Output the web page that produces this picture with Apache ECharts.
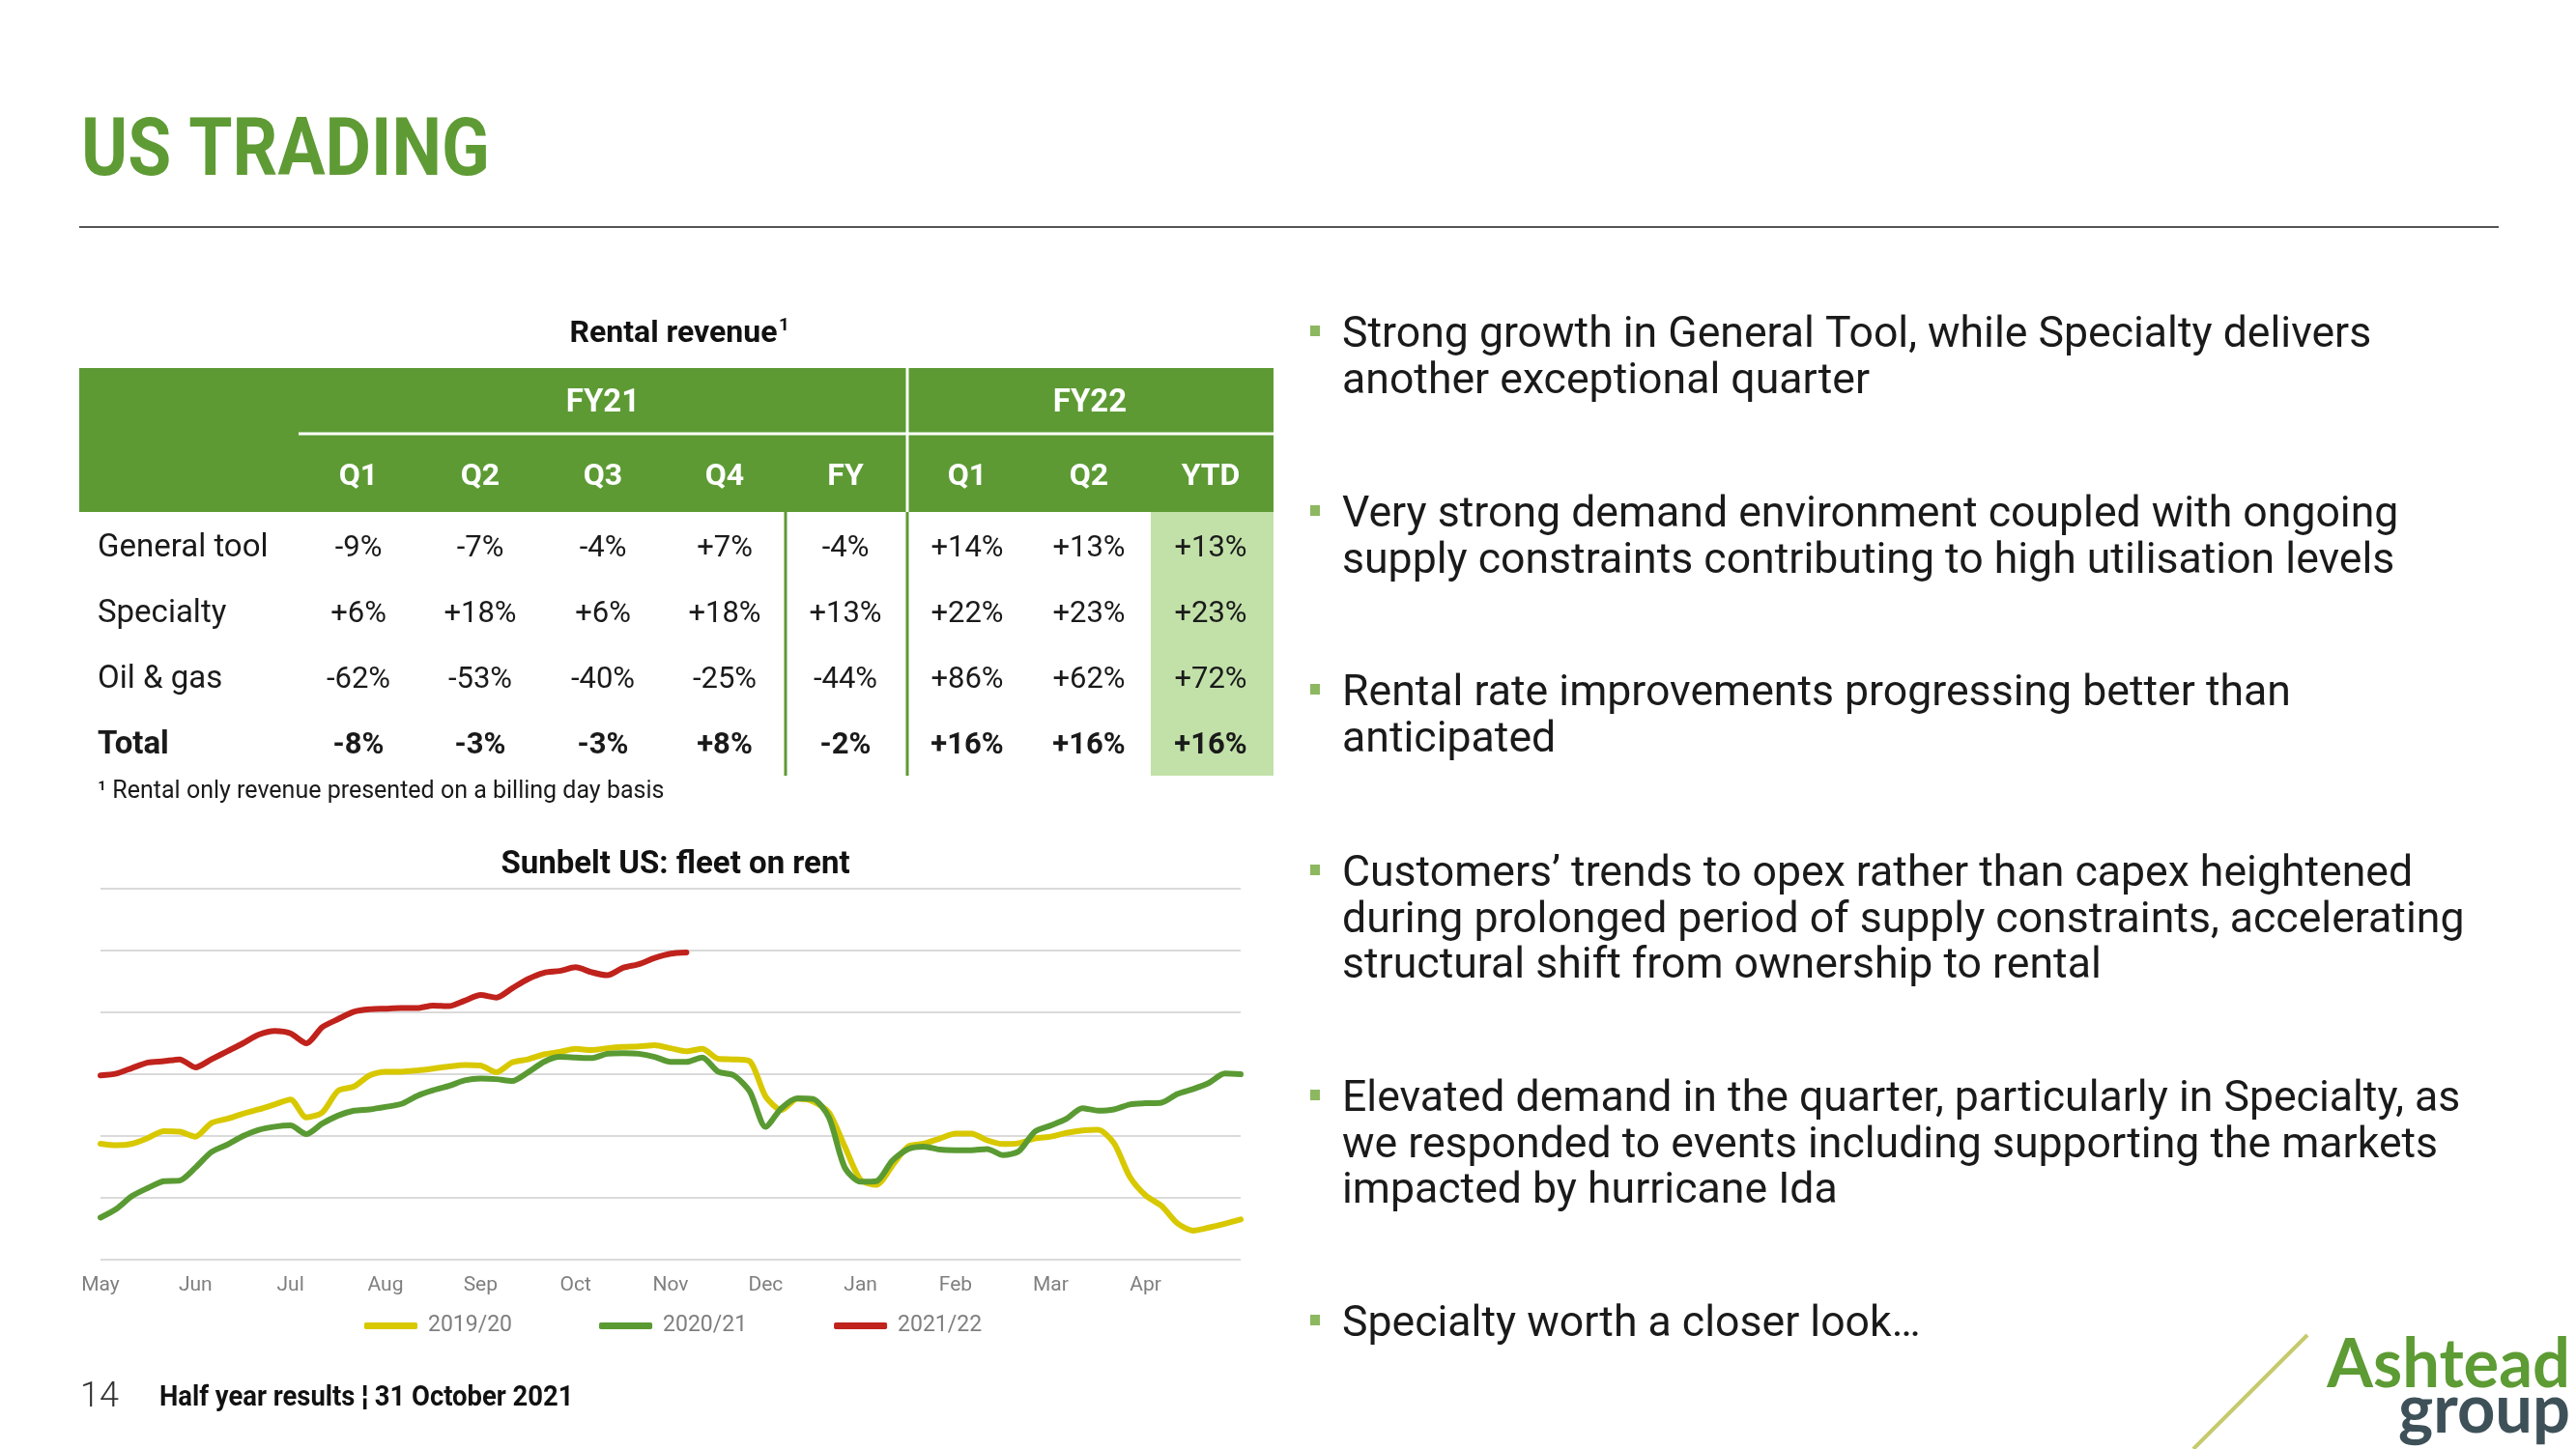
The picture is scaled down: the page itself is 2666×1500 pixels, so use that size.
<!DOCTYPE html>
<html><head><meta charset="utf-8">
<script src="https://cdn.jsdelivr.net/npm/echarts@6/dist/echarts.min.js"></script>
<style>html,body{margin:0;padding:0;background:#fff}#c{width:2666px;height:1500px}</style>
</head><body><div id="c"></div>
<script>
// ---------- DATA ----------
const monthLabels = ['May','Jun','Jul','Aug','Sep','Oct','Nov','Dec','Jan','Feb','Mar','Apr'];
const pointsPerMonth = 6;
const seriesNames = ['2019/20','2020/21','2021/22'];
const fleet1920 = [1.875,1.85,1.875,1.97,2.08,2.07,1.99,2.21,2.28,2.36,2.43,2.51,2.59,2.30,2.38,2.73,2.80,2.98,
  3.04,3.04,3.06,3.09,3.125,3.15,3.14,3.03,3.19,3.24,3.32,3.36,3.41,3.39,3.42,3.44,3.45,3.47,
  3.42,3.37,3.41,3.25,3.24,3.21,2.64,2.42,2.60,2.56,2.38,1.83,1.29,1.21,1.52,1.83,1.875,1.96,
  2.04,2.04,1.93,1.87,1.885,1.96,1.99,2.05,2.09,2.10,1.885,1.34,1.04,0.87,0.59,0.47,0.52,0.58,0.65];
const fleet2021 = [0.68,0.82,1.03,1.16,1.27,1.28,1.49,1.74,1.86,2.00,2.10,2.15,2.17,2.03,2.20,2.33,2.41,2.43,
  2.47,2.52,2.65,2.74,2.81,2.90,2.93,2.92,2.89,3.03,3.20,3.28,3.27,3.26,3.33,3.34,3.33,3.28,
  3.20,3.20,3.27,3.04,2.98,2.72,2.15,2.45,2.61,2.60,2.30,1.49,1.26,1.27,1.60,1.79,1.83,1.78,
  1.77,1.77,1.79,1.69,1.755,2.07,2.17,2.28,2.45,2.41,2.43,2.51,2.53,2.54,2.68,2.76,2.86,3.01,3.00];
const fleet2122 = [2.98,3.01,3.10,3.19,3.21,3.24,3.11,3.24,3.37,3.50,3.64,3.70,3.66,3.50,3.76,3.89,4.01,4.05,
  4.06,4.07,4.07,4.11,4.10,4.19,4.28,4.24,4.39,4.54,4.64,4.67,4.73,4.65,4.60,4.72,4.78,4.88,
  4.95,4.97];

const tableGroups = ['FY21','FY22'];
const tableCols = ['Q1','Q2','Q3','Q4','FY','Q1','Q2','YTD'];
const rowLabels = ['General tool','Specialty','Oil & gas','Total'];
const rowGeneralTool = ['-9%','-7%','-4%','+7%','-4%','+14%','+13%','+13%'];
const rowSpecialty = ['+6%','+18%','+6%','+18%','+13%','+22%','+23%','+23%'];
const rowOilGas = ['-62%','-53%','-40%','-25%','-44%','+86%','+62%','+72%'];
const rowTotal = ['-8%','-3%','-3%','+8%','-2%','+16%','+16%','+16%'];

const bulletLines = [
  ['Strong growth in General Tool, while Specialty delivers','another exceptional quarter'],
  ['Very strong demand environment coupled with ongoing','supply constraints contributing to high utilisation levels'],
  ['Rental rate improvements progressing better than','anticipated'],
  ['Customers\u2019 trends to opex rather than capex heightened','during prolonged period of supply constraints, accelerating','structural shift from ownership to rental'],
  ['Elevated demand in the quarter, particularly in Specialty, as','we responded to events including supporting the markets','impacted by hurricane Ida'],
  ['Specialty worth a closer look\u2026']
];

// ---------- LAYOUT ----------
const GREEN = '#5d9a34', YELLOW = '#d8c800', GGREEN = '#5a9a33', RED = '#c0221c';
const colX = [371, 497, 624, 750, 875, 1001, 1127, 1253];
const rowY = [568, 636, 704, 772];
const bulletY = [343, 529, 714, 901, 1134, 1367];
const LH = 47.6;

const categories = [];
for (let i = 0; i <= monthLabels.length * pointsPerMonth; i++) {
  categories.push(i % pointsPerMonth === 0 && i / pointsPerMonth < monthLabels.length ? monthLabels[i / pointsPerMonth] : '');
}

function txt(x, y, text, font, fill, align, sx) {
  return {type:'text', x:x, y:y, scaleX: sx || 1, silent:true, z:10,
    style:{text:text, font:font, fill:fill, align:align||'left', textAlign:align||'left',
      verticalAlign:'middle', textVerticalAlign:'middle'}};
}
const els = [];
// title + rule
els.push(txt(84, 160, 'US TRADING', 'bold 84px Roboto', '#5f9b35', 'left', 0.87));
els.push({type:'line', silent:true, shape:{x1:82, y1:235, x2:2586, y2:235}, style:{stroke:'#555', lineWidth:2}});
// table
els.push(txt(697, 346, 'Rental revenue', 'bold 32px Roboto', '#111', 'center'));
els.push(txt(806, 337, '1', 'bold 19px Roboto', '#111', 'left'));
els.push({type:'rect', silent:true, shape:{x:82, y:381, width:1236, height:149}, style:{fill:GREEN}});
els.push({type:'rect', silent:true, shape:{x:1191, y:530, width:127, height:273}, style:{fill:'#c2e1a9'}});
els.push({type:'line', silent:true, shape:{x1:309, y1:449, x2:1318, y2:449}, style:{stroke:'#fff', lineWidth:3}});
els.push({type:'line', silent:true, shape:{x1:939, y1:381, x2:939, y2:530}, style:{stroke:'#fff', lineWidth:3}});
els.push({type:'line', silent:true, shape:{x1:813, y1:530, x2:813, y2:803}, style:{stroke:GREEN, lineWidth:3}});
els.push({type:'line', silent:true, shape:{x1:939, y1:530, x2:939, y2:803}, style:{stroke:GREEN, lineWidth:3}});
els.push(txt(624, 418, tableGroups[0], 'bold 33px Roboto', '#fff', 'center'));
els.push(txt(1128, 418, tableGroups[1], 'bold 33px Roboto', '#fff', 'center'));
tableCols.forEach((c, j) => els.push(txt(colX[j], 494, c, 'bold 32px Roboto', '#fff', 'center')));
const rows = [rowGeneralTool, rowSpecialty, rowOilGas, rowTotal];
rows.forEach((r, i) => {
  const f = i === 3 ? 'bold 31px Roboto' : '31px Roboto';
  const fl = i === 3 ? 'bold 33px Roboto' : '33px Roboto';
  els.push(txt(101, rowY[i], rowLabels[i], fl, '#1a1a1a', 'left'));
  r.forEach((v, j) => els.push(txt(colX[j], rowY[i], v, f, '#1a1a1a', 'center')));
});
els.push(txt(101, 820, '\u00b9 Rental only revenue presented on a billing day basis', '25px Roboto', '#1a1a1a', 'left'));
// chart title
els.push(txt(699, 896, 'Sunbelt US: fleet on rent', 'bold 33px Roboto', '#111', 'center'));
// bullets
bulletLines.forEach((lines, b) => {
  els.push({type:'rect', silent:true, shape:{x:1356, y:bulletY[b] - 6, width:10, height:11}, style:{fill:'#8cb860'}});
  lines.forEach((l, k) => els.push(txt(1389, bulletY[b] + 5 + k * LH, l, '44.6px Roboto', '#1a1a1a', 'left')));
});
// footer
els.push(txt(83, 1447, '14', '300 36px Roboto', '#333', 'left'));
els.push(txt(165, 1447, 'Half year results \u00a6 31 October 2021', 'bold 30px Roboto', '#111', 'left', 0.913));
// logo
els.push({type:'line', silent:true, shape:{x1:2270, y1:1500, x2:2388, y2:1382}, style:{stroke:'#c6ca6c', lineWidth:4}});
els.push(txt(2660, 1413, 'Ashtead', 'bold 70px Lato', '#5d9b34', 'right', 0.98));
els.push(txt(2660, 1460, 'group', 'bold 70px Lato', '#3e5158', 'right', 0.98));

const chart = echarts.init(document.getElementById('c'), null, {renderer:'canvas'});
const lineSeries = (name, data, color, z) => ({
  name:name, type:'line', data:data, showSymbol:false, symbol:'none', smooth:0.25, z:z,
  lineStyle:{color:color, width:6, cap:'round', join:'round'}, itemStyle:{color:color}
});
chart.setOption({
  backgroundColor:'#fff',
  animation:false,
  textStyle:{fontFamily:'Roboto'},
  grid:{left:104, right:1382, top:920, bottom:196, containLabel:false},
  xAxis:{type:'category', data:categories, boundaryGap:false,
    axisLine:{show:false}, axisTick:{show:false},
    axisLabel:{interval:pointsPerMonth - 1, color:'#7f7f7f', fontSize:21, margin:16, fontFamily:'Roboto'},
    splitLine:{show:false}},
  yAxis:{type:'value', min:0, max:6, interval:1,
    axisLabel:{show:false}, axisLine:{show:false}, axisTick:{show:false},
    splitLine:{show:true, lineStyle:{color:'#dadada', width:2}}},
  legend:{left:372, top:1356, itemWidth:55, itemHeight:7, itemGap:90, icon:'roundRect',
    data:seriesNames, textStyle:{color:'#7f7f7f', fontSize:23, fontFamily:'Roboto', padding:[0,0,0,6]}},
  series:[
    lineSeries(seriesNames[0], fleet1920, YELLOW, 2),
    lineSeries(seriesNames[1], fleet2021, GGREEN, 3),
    lineSeries(seriesNames[2], fleet2122, RED, 4)
  ],
  graphic:{elements:els}
});
</script></body></html>
